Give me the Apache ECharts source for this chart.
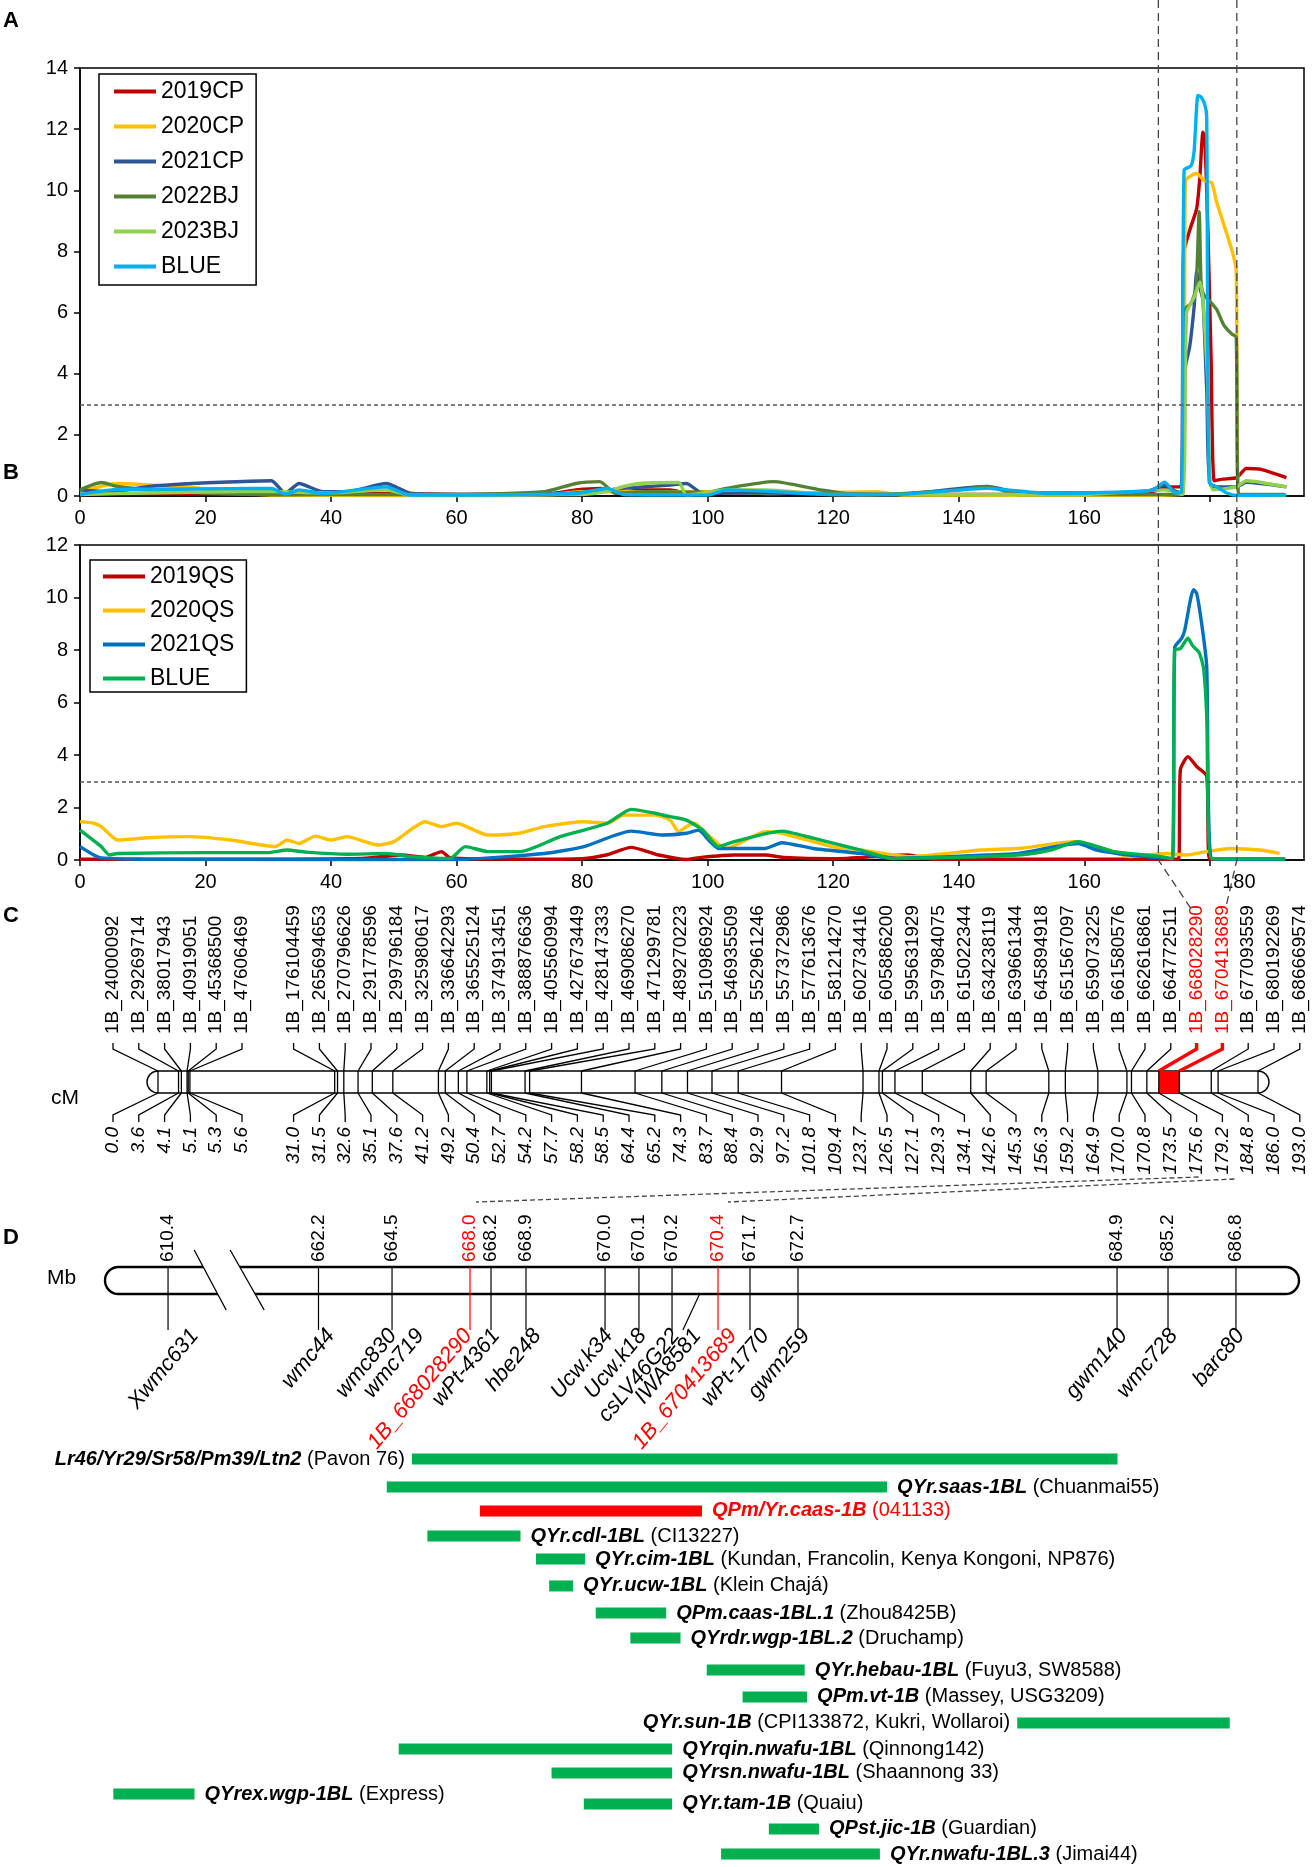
<!DOCTYPE html>
<html>
<head>
<meta charset="utf-8">
<script src="https://cdn.jsdelivr.net/npm/echarts@6.0.0/dist/echarts.min.js"></script>
<style>
html,body{margin:0;padding:0;background:#fff;}
#chart{width:1314px;height:1867px;}
</style>
</head>
<body>
<div id="chart"></div>
<script>
// ================= DATA =================
// Panel A: LOD profiles, [genetic position (cM), LOD]
const A_2019CP = [[0,0.05],[10,0.08],[30,0.05],[50,0.08],[60,0.05],[75,0.08],[79,0.2],[83,0.25],[86,0.1],[89,0.2],[94,0.2],[97,0.08],[110,0.12],[120,0.05],[140,0.05],[160,0.05],[170,0.1],[173.5,0.3],[175.4,0.3],[175.8,7.9],[176.8,8.7],[177.9,9.4],[178.4,10.4],[178.9,11.9],[179.2,11.7],[179.7,8.6],[180.2,4.5],[180.7,0.5],[182,0.55],[184.3,0.6],[185.8,0.9],[188,0.88],[192.2,0.6]];
const A_2020CP = [[0,0.14],[6,0.41],[11,0.36],[17,0.3],[23.6,0.14],[31,0.03],[60,0.01],[75,0.05],[80,0.14],[99,0.14],[110,0.08],[127,0.14],[131,0.03],[170,0.02],[175.7,0.05],[176.1,10.3],[176.8,10.45],[177.9,10.55],[179.2,10.3],[180.3,10.25],[181.1,9.6],[182.2,8.9],[183.5,8.05],[184.2,7.4],[184.6,0.05],[192,0.02]];
const A_2021CP = [[0,0.2],[4.7,0.14],[11,0.31],[17,0.4],[23.6,0.46],[30.5,0.5],[32.7,0.09],[34.9,0.41],[38.7,0.14],[42.5,0.14],[48.8,0.41],[52.6,0.09],[60,0.05],[74,0.05],[80,0.12],[86.6,0.25],[94.1,0.36],[96.6,0.41],[99.2,0.09],[110,0.1],[130,0.05],[144.5,0.31],[150,0.1],[160,0.1],[170,0.15],[172.8,0.36],[174.5,0.15],[175.6,0.1],[176.0,4.1],[176.8,4.9],[177.5,6.2],[177.9,7.35],[178.3,6.9],[178.9,6.4],[179.5,3.5],[180.3,0.3],[184.3,0.3],[185.8,0.45],[192.2,0.3]];
const A_2022BJ = [[0,0.2],[3.4,0.44],[6,0.31],[11,0.2],[20,0.1],[31,0.05],[60,0.05],[74,0.14],[79,0.41],[82.8,0.47],[85.3,0.09],[90,0.14],[100,0.12],[102.9,0.25],[110.5,0.47],[118,0.2],[124.3,0.03],[140,0.2],[144.5,0.31],[149.5,0.05],[172,0.05],[175.6,0.05],[176.0,6.1],[177.0,6.3],[177.8,6.8],[178.3,9.3],[178.6,7.0],[179.0,6.6],[180.3,6.3],[181.1,6.1],[182.2,5.6],[183.5,5.3],[184.2,5.2],[184.6,0.05],[192,0.05]];
const A_2023BJ = [[0,0.05],[11,0.1],[30,0.15],[40,0.1],[48.8,0.2],[52.6,0.03],[80,0.05],[84,0.15],[86.6,0.31],[89.1,0.41],[95.4,0.44],[96.6,0.03],[102.9,0.2],[109.2,0.2],[120,0.05],[160,0.05],[172.8,0.2],[175.6,0.05],[176.3,6.0],[177.5,6.5],[178.4,7.0],[178.9,6.4],[179.6,4.0],[180.5,0.2],[184.3,0.3],[185.8,0.5],[192.2,0.3]];
const A_BLUE = [[0,0.05],[5,0.2],[11,0.22],[23.6,0.24],[30.5,0.25],[32.7,0.06],[34.9,0.2],[38.7,0.08],[48.8,0.3],[52.6,0.03],[79,0.08],[84,0.25],[86.6,0.05],[100,0.03],[102.9,0.2],[110,0.15],[120,0.05],[130,0.05],[144.5,0.25],[154.6,0.08],[167.2,0.14],[171,0.2],[172.8,0.45],[174.5,0.1],[175.5,0.15],[175.9,10.66],[177.0,10.8],[177.5,11.3],[178.1,13.1],[178.6,13.05],[179.2,12.8],[179.5,12.4],[179.9,0.45],[181.1,0.3],[182.7,0.1],[184.3,0.02],[192.2,0.03]];

// Panel B
const B_2019QS = [[0,0.03],[20,0.03],[45,0.06],[51.3,0.19],[55,0.1],[57.6,0.32],[59,0.08],[70,0.03],[80,0.05],[84,0.2],[87.8,0.48],[92,0.2],[96.6,0.02],[99,0.1],[104.2,0.19],[109.2,0.19],[112,0.1],[120,0.05],[131.9,0.19],[136,0.03],[160,0.03],[175.0,0.03],[175.3,3.43],[176.5,3.94],[177.9,3.56],[179.5,3.2],[180.0,0.03],[192,0.03]];
const B_2020QS = [[0,1.46],[2.2,1.4],[3.4,1.27],[6,0.76],[11,0.85],[17.3,0.89],[24,0.76],[31.1,0.51],[33,0.76],[34.9,0.63],[37.5,0.91],[40,0.76],[42.5,0.89],[47.5,0.57],[50,0.7],[55,1.46],[57.6,1.27],[60,1.4],[65,0.95],[70,1.02],[74,1.27],[80.3,1.46],[84,1.4],[86.6,1.71],[91.6,1.71],[94,1.52],[95.4,1.08],[96.6,1.27],[97.9,1.4],[99.2,1.14],[103,0.44],[109.2,1.08],[111.8,1.02],[120,0.5],[124.4,0.38],[128,0.25],[132,0.13],[143.6,0.38],[150,0.45],[158.4,0.7],[162,0.51],[167.2,0.13],[170.5,0.2],[173.1,0.25],[176.3,0.19],[179,0.3],[183.2,0.44],[188,0.38],[191.1,0.25]];
const B_2021QS = [[0,0.51],[2.2,0.19],[3.4,0.08],[10,0.03],[60,0.02],[74,0.25],[80.3,0.51],[87.8,1.1],[92.9,0.95],[96.6,1.02],[98.5,1.14],[100.4,0.7],[101.7,0.44],[109.2,0.44],[111.8,0.66],[116.8,0.44],[124.4,0.25],[129.4,0.06],[144.5,0.19],[149.5,0.25],[159,0.63],[162,0.38],[167.2,0.19],[172.2,0.08],[174.0,0.05],[174.4,8.1],[175.5,8.44],[176.0,8.76],[177.4,10.3],[177.9,10.16],[178.7,9.0],[179.5,7.37],[180.3,0.05],[186,0.02],[192,0.02]];
const B_BLUE = [[0,1.14],[3.4,0.51],[4.7,0.19],[6,0.25],[20,0.28],[29.9,0.28],[33,0.38],[36,0.3],[42.5,0.22],[48.8,0.25],[52.6,0.13],[58.9,0.06],[61.4,0.51],[65,0.32],[70.2,0.32],[76.5,0.89],[84,1.4],[87.8,1.93],[91.6,1.78],[94,1.65],[96.6,1.52],[99.2,1.14],[101.7,0.51],[104.2,0.7],[111.8,1.1],[116.8,0.83],[124.4,0.38],[129.4,0.06],[140,0.1],[150,0.2],[154.6,0.38],[159,0.7],[164.7,0.32],[172.2,0.13],[174.0,0.05],[174.4,8.0],[175.3,8.05],[176.5,8.45],[177.3,8.15],[178.3,7.9],[179.0,7.3],[179.5,5.5],[180.3,0.05],[186,0.05],[192,0.05]];

const namesA = ['2019CP','2020CP','2021CP','2022BJ','2023BJ','BLUE'];
const namesB = ['2019QS','2020QS','2021QS','BLUE'];
const xTicksCM = [0,20,40,60,80,100,120,140,160,180];
const lodThreshold = 3;
const intervalCM = [171.8, 184.3];

// Panel C: linkage map markers
const markerNames = ['1B_24000092','1B_29269714','1B_38017943','1B_40919051','1B_45368500','1B_47606469','1B_176104459','1B_265694653','1B_270796626','1B_291778596','1B_299796184','1B_325980617','1B_336642293','1B_365525124','1B_374913451','1B_388876636','1B_405560994','1B_427673449','1B_428147333','1B_469086270','1B_471299781','1B_489270223','1B_510986924','1B_546935509','1B_552961246','1B_557372986','1B_577613676','1B_581214270','1B_602734416','1B_605886200','1B_595631929','1B_597984075','1B_615022344','1B_634238119','1B_639661344','1B_645894918','1B_651567097','1B_659073225','1B_661580576','1B_662616861','1B_664772511','1B_668028290','1B_670413689','1B_677093559','1B_680192269','1B_686669574'];
const markerCM = [0.0,3.6,4.1,5.1,5.3,5.6,31.0,31.5,32.6,35.1,37.6,41.2,49.2,50.4,52.7,54.2,57.7,58.2,58.5,64.4,65.2,74.3,83.7,88.4,92.9,97.2,101.8,109.4,123.7,126.5,127.1,129.3,134.1,142.6,145.3,156.3,159.2,164.9,170.0,170.8,173.5,175.6,179.2,184.8,186.0,193.0];
const redMarkers = ['1B_668028290','1B_670413689'];
const chromLengthCM = 193.0;

// Panel D: physical map (schematic position along the drawn bar, 0-100)
const physMb = ['610.4','662.2','664.5','668.0','668.2','668.9','670.0','670.1','670.2','670.4','671.7','672.7','684.9','685.2','686.8'];
const physPos = [5.28,17.88,24.04,30.57,32.33,35.26,41.88,44.72,47.49,51.34,54.02,58.04,84.76,89.03,94.72];
const physRedMb = ['668.0','670.4'];
const mapLabels = ['Xwmc631','wmc44','wmc830','wmc719','1B_668028290','wPt-4361','hbe248','Ucw.k34','Ucw.k18','csLV46G22','IWA8581','1B_670413689','wPt-1770','gwm259','gwm140','wmc728','barc80'];
const mapLabelPos = [7.5,18.9,24.1,26.4,30.4,32.75,36.2,42.2,45.0,47.8,49.6,52.6,55.3,58.7,85.3,89.5,95.1];
const iwaLink = [49.8, 48.4];
const breakPos = 10.4;

// QTL / gene intervals on the schematic physical map
const qtlNames = ['Lr46/Yr29/Sr58/Pm39/Ltn2','QYr.saas-1BL','QPm/Yr.caas-1B','QYr.cdl-1BL','QYr.cim-1BL','QYr.ucw-1BL','QPm.caas-1BL.1','QYrdr.wgp-1BL.2','QYr.hebau-1BL','QPm.vt-1B','QYr.sun-1B','QYrqin.nwafu-1BL','QYrsn.nwafu-1BL','QYrex.wgp-1BL','QYr.tam-1B','QPst.jic-1B','QYr.nwafu-1BL.3'];
const qtlSources = ['(Pavon 76)','(Chuanmai55)','(041133)','(CI13227)','(Kundan, Francolin, Kenya Kongoni, NP876)','(Klein Chajá)','(Zhou8425B)','(Druchamp)','(Fuyu3, SW8588)','(Massey, USG3209)','(CPI133872, Kukri, Wollaroi)','(Qinnong142)','(Shaannong 33)','(Express)','(Quaiu)','(Guardian)','(Jimai44)'];
const qtlStart = [25.7,23.6,31.4,27.0,36.1,37.2,41.1,44.0,50.4,53.4,76.4,24.6,37.4,0.7,40.1,55.6,51.6];
const qtlEnd   = [84.8,65.5,50.0,34.8,40.2,39.2,47.0,48.2,58.6,58.8,94.2,47.5,47.5,7.5,47.5,59.8,64.9];
const qtlRow   = [0,1.14,2.11,3.13,4.07,5.16,6.26,7.28,8.58,9.67,10.73,11.79,12.76,13.62,14.02,15.04,16.06];
const qtlRed = ['QPm/Yr.caas-1B'];
const qtlLeftLabel = ['Lr46/Yr29/Sr58/Pm39/Ltn2','QYr.sun-1B'];

// ================= STYLE =================
const FONT = '"Liberation Sans", Arial, Helvetica, sans-serif';
const RED = '#FF0000';
const colorsA = ['#C00000','#FFC000','#2F5597','#548235','#92D050','#00B0F0'];
const colorsB = ['#C00000','#FFC000','#0070C0','#00B050'];
const dataA = [A_2019CP, A_2020CP, A_2021CP, A_2022BJ, A_2023BJ, A_BLUE];
const dataB = [B_2019QS, B_2020QS, B_2021QS, B_BLUE];

const chart = echarts.init(document.getElementById('chart'), null, {renderer: 'canvas'});

function valueXAxis(gridIndex) {
  return {
    type: 'value', gridIndex, min: 0, max: 195,
    axisLine: {show: true, lineStyle: {color: '#000', width: 1.5}},
    axisTick: {show: true, inside: false, length: 6, lineStyle: {color: '#000', width: 1.5}, customValues: xTicksCM},
    axisLabel: {
      show: true, color: '#000', fontSize: 20, fontFamily: FONT, margin: 12, customValues: xTicksCM,
      formatter: v => (v === 180 ? '{r|180}' : String(v)),
      rich: {r: {fontSize: 20, fontFamily: FONT, color: '#000', padding: [0, 0, 0, 58]}}
    },
    splitLine: {show: false}
  };
}
function valueYAxis(gridIndex, max) {
  return {
    type: 'value', gridIndex, min: 0, max, interval: 2,
    axisLine: {show: true, lineStyle: {color: '#000', width: 1.5}},
    axisTick: {show: true, inside: false, length: 6, lineStyle: {color: '#000', width: 1.5}},
    axisLabel: {show: true, color: '#000', fontSize: 20, fontFamily: FONT, margin: 12},
    splitLine: {show: false}
  };
}
function hiddenAxis(gridIndex, min, max, inverse) {
  return {type: 'value', gridIndex, min, max, inverse: !!inverse, show: false, splitLine: {show: false}};
}

function lineSeries(name, data, color, xi, withThreshold) {
  const s = {
    type: 'line', name, data, xAxisIndex: xi, yAxisIndex: xi,
    showSymbol: false, symbol: 'none', smooth: 0.2, clip: true,
    lineStyle: {color, width: 3.4}, itemStyle: {color},
    emphasis: {disabled: true}, silent: true, z: 3
  };
  if (withThreshold) {
    s.markLine = {
      silent: true, symbol: 'none', animation: false,
      label: {show: false},
      lineStyle: {color: '#555', type: [4, 3], width: 1.5},
      data: [{yAxis: lodThreshold}]
    };
  }
  return s;
}

const legendCommon = {
  orient: 'vertical', icon: 'rect', itemWidth: 42, itemHeight: 4,
  borderColor: '#000', borderWidth: 1.5, backgroundColor: '#fff',
  selectedMode: false,
  formatter: n => n.replace(/_[AB]$/, ''),
  textStyle: {fontSize: 23, color: '#000', fontFamily: FONT}
};

const baseSeries = [];
namesA.forEach((n, i) => baseSeries.push(lineSeries(n === 'BLUE' ? 'BLUE_A' : n, dataA[i], colorsA[i], 0, i === 0)));
namesB.forEach((n, i) => baseSeries.push(lineSeries(n === 'BLUE' ? 'BLUE_B' : n, dataB[i], colorsB[i], 1, i === 0)));

const gridCommon = {containLabel: false, outerBoundsMode: 'none'};
const option = {
  animation: false,
  backgroundColor: '#fff',
  textStyle: {fontFamily: FONT},
  grid: [
    Object.assign({left: 80, top: 68, width: 1224, height: 428, show: true, borderColor: '#000', borderWidth: 1.5, backgroundColor: 'transparent'}, gridCommon),
    Object.assign({left: 80, top: 545, width: 1224, height: 315, show: true, borderColor: '#000', borderWidth: 1.5, backgroundColor: 'transparent'}, gridCommon),
    Object.assign({left: 158, top: 1071, width: 1100, height: 22}, gridCommon),
    Object.assign({left: 113, top: 1071, width: 1186.8, height: 22}, gridCommon),
    Object.assign({left: 105, top: 1267, width: 1194, height: 27}, gridCommon),
    Object.assign({left: 105, top: 1459, width: 1194, height: 393.6}, gridCommon)
  ],
  xAxis: [
    valueXAxis(0), valueXAxis(1),
    hiddenAxis(2, 0, chromLengthCM), hiddenAxis(3, 0, 46),
    hiddenAxis(4, 0, 100), hiddenAxis(5, 0, 100)
  ],
  yAxis: [
    valueYAxis(0, 14), valueYAxis(1, 12),
    hiddenAxis(2, 0, 1), hiddenAxis(3, 0, 1), hiddenAxis(4, 0, 1), hiddenAxis(5, 0, 16, true)
  ],
  legend: [
    Object.assign({}, legendCommon, {data: namesA.map(n => n === 'BLUE' ? 'BLUE_A' : n), left: 99, top: 74, padding: [6, 12, 7, 15], itemGap: 12}),
    Object.assign({}, legendCommon, {data: namesB.map(n => n === 'BLUE' ? 'BLUE_B' : n), left: 90, top: 560, padding: [5, 12, 2, 13], itemGap: 11})
  ],
  series: baseSeries
};
chart.setOption(option);

// ---------- second pass: positions from the library's axes ----------
const slotOf = i => (i < 6 ? i : i + 1);
const slotPx = markerNames.map((n, i) => chart.convertToPixel({xAxisIndex: 3}, slotOf(i)));
const mapPx = u => chart.convertToPixel({xAxisIndex: 4}, u);
const cmA = v => chart.convertToPixel({xAxisIndex: 0}, v);
const bBottom = chart.convertToPixel({yAxisIndex: 1}, 0);

const customSeries = [];
// Chromosome body + red interval (panel C)
customSeries.push({
  type: 'custom', xAxisIndex: 2, yAxisIndex: 2, silent: true, z: 2,
  data: [[0, chromLengthCM]],
  renderItem: (params, api) => {
    const cs = params.coordSys;
    const x0 = api.coord([api.value(0), 0])[0];
    const x1 = api.coord([api.value(1), 0])[0];
    const r0 = api.coord([markerCM[markerNames.indexOf(redMarkers[0])], 0])[0];
    const r1 = api.coord([markerCM[markerNames.indexOf(redMarkers[1])], 0])[0];
    const h = cs.height;
    return {type: 'group', children: [
      {type: 'rect', shape: {x: x0 - h / 2, y: cs.y, width: x1 - x0 + h, height: h, r: h / 2}, style: {fill: '#fff', stroke: '#000', lineWidth: 1.4}},
      {type: 'rect', shape: {x: r0, y: cs.y, width: r1 - r0, height: h}, style: {fill: RED}}
    ]};
  }
});
// Markers (panel C)
customSeries.push({
  type: 'custom', xAxisIndex: 2, yAxisIndex: 2, silent: true, z: 3,
  encode: {x: 0, y: 1},
  data: markerCM.map((c, i) => [c, 0, i]),
  renderItem: (params, api) => {
    const i = api.value(2);
    const cm = api.value(0);
    const cs = params.coordSys;
    const cx = api.coord([cm, 0])[0];
    const top = cs.y, bot = cs.y + cs.height;
    const sx = slotPx[i];
    const isRed = redMarkers.includes(markerNames[i]);
    const col = isRed ? RED : '#000';
    return {type: 'group', children: [
      {type: 'polyline', shape: {points: [[sx, top - 28], [sx, top - 22], [cx, top]]}, style: {stroke: col, lineWidth: isRed ? 3.5 : 1.3, fill: 'none'}},
      {type: 'line', shape: {x1: cx, y1: top, x2: cx, y2: bot}, style: {stroke: '#000', lineWidth: 1.3}},
      {type: 'polyline', shape: {points: [[cx, bot], [sx, bot + 22], [sx, bot + 29]]}, style: {stroke: '#000', lineWidth: 1.3, fill: 'none'}},
      {type: 'text', x: sx, y: top - 37, rotation: Math.PI / 2, style: {text: markerNames[i], fill: col, fontSize: 19, fontFamily: FONT, align: 'left', verticalAlign: 'middle'}},
      {type: 'text', x: sx, y: bot + 34, rotation: Math.PI / 2, style: {text: cm.toFixed(1), fill: '#000', fontSize: 19, fontStyle: 'italic', fontFamily: FONT, align: 'right', verticalAlign: 'middle'}}
    ]};
  }
});
// Physical map bar (panel D)
customSeries.push({
  type: 'custom', xAxisIndex: 4, yAxisIndex: 4, silent: true, z: 2,
  data: [[0, 0]],
  renderItem: (params, api) => {
    const cs = params.coordSys;
    return {type: 'rect', shape: {x: cs.x, y: cs.y, width: cs.width, height: cs.height, r: cs.height / 2}, style: {fill: '#fff', stroke: '#000', lineWidth: 2.4}};
  }
});
// Physical ticks + Mb labels
customSeries.push({
  type: 'custom', xAxisIndex: 4, yAxisIndex: 4, silent: true, z: 3,
  encode: {x: 0, y: 1},
  data: physPos.map((p, i) => [p, 0, i]),
  renderItem: (params, api) => {
    const i = api.value(2);
    const cs = params.coordSys;
    const x = api.coord([api.value(0), 0])[0];
    const top = cs.y, bot = cs.y + cs.height;
    const isRed = physRedMb.includes(physMb[i]);
    const col = isRed ? RED : '#000';
    return {type: 'group', children: [
      {type: 'line', shape: {x1: x, y1: top, x2: x, y2: bot + 36}, style: {stroke: col, lineWidth: 1.2}},
      {type: 'text', x: x, y: top - 5, rotation: Math.PI / 2, style: {text: physMb[i], fill: col, fontSize: 19, fontFamily: FONT, align: 'left', verticalAlign: 'middle'}}
    ]};
  }
});
// IWA8581 link line
customSeries.push({
  type: 'custom', xAxisIndex: 4, yAxisIndex: 4, silent: true, z: 3,
  data: [[iwaLink[0], 0, iwaLink[1]]],
  renderItem: (params, api) => {
    const cs = params.coordSys;
    const bot = cs.y + cs.height;
    const a = api.coord([api.value(0), 0])[0];
    const b = api.coord([api.value(2), 0])[0];
    return {type: 'line', shape: {x1: a, y1: bot, x2: b, y2: bot + 36}, style: {stroke: '#000', lineWidth: 1.2}};
  }
});
// Break symbol
customSeries.push({
  type: 'custom', xAxisIndex: 4, yAxisIndex: 4, silent: true, z: 4,
  data: [[breakPos, 0]],
  renderItem: (params, api) => {
    const cs = params.coordSys;
    const c = api.coord([api.value(0), 0])[0];
    const t = cs.y - 17, b = cs.y + cs.height + 16;
    return {type: 'group', children: [
      {type: 'polygon', shape: {points: [[c - 35, t], [c + 1, t], [c + 35, b], [c - 3, b]]}, style: {fill: '#fff'}},
      {type: 'line', shape: {x1: c - 35, y1: t, x2: c - 3, y2: b}, style: {stroke: '#000', lineWidth: 1.3}},
      {type: 'line', shape: {x1: c + 1, y1: t, x2: c + 35, y2: b}, style: {stroke: '#000', lineWidth: 1.3}}
    ]};
  }
});
// Marker names below the physical map
customSeries.push({
  type: 'custom', xAxisIndex: 4, yAxisIndex: 4, silent: true, z: 3,
  encode: {x: 0, y: 1},
  data: mapLabelPos.map((p, i) => [p, 0, i]),
  renderItem: (params, api) => {
    const i = api.value(2);
    const cs = params.coordSys;
    const x = api.coord([api.value(0), 0])[0];
    const bot = cs.y + cs.height;
    const isRed = redMarkers.includes(mapLabels[i]);
    return {type: 'text', x: x, y: bot + 38, rotation: 50 * Math.PI / 180,
      style: {text: mapLabels[i], fill: isRed ? RED : '#000', fontSize: 22, fontStyle: 'italic', fontFamily: FONT, align: 'right', verticalAlign: 'middle'}};
  }
});
// QTL intervals
customSeries.push({
  type: 'custom', xAxisIndex: 5, yAxisIndex: 5, silent: true, z: 3,
  encode: {x: [0, 1], y: 2},
  data: qtlStart.map((s, i) => [s, qtlEnd[i], qtlRow[i], i]),
  renderItem: (params, api) => {
    const i = api.value(3);
    const s = api.coord([api.value(0), api.value(2)]);
    const e = api.coord([api.value(1), api.value(2)]);
    const h = 11;
    const isRed = qtlRed.includes(qtlNames[i]);
    const col = isRed ? RED : '#00B050';
    const txtCol = isRed ? RED : '#000';
    const left = qtlLeftLabel.includes(qtlNames[i]);
    return {type: 'group', children: [
      {type: 'rect', shape: {x: s[0], y: s[1] - h / 2, width: e[0] - s[0], height: h}, style: {fill: col}},
      {type: 'text', x: left ? s[0] - 7 : e[0] + 10, y: s[1],
        style: {
          text: '{n|' + qtlNames[i] + '} {c|' + qtlSources[i] + '}',
          fill: txtCol, fontSize: 20, fontFamily: FONT,
          align: left ? 'right' : 'left', verticalAlign: 'middle',
          rich: {
            n: {fill: txtCol, fontSize: 20, fontFamily: FONT, fontStyle: 'italic', fontWeight: 'bold'},
            c: {fill: txtCol, fontSize: 20, fontFamily: FONT}
          }
        }}
    ]};
  }
});

// Annotation connectors and labels
const cTop = 1071, cBot = 1093, dTop = 1267;
const iR0 = markerNames.indexOf(redMarkers[0]);
const iR1 = markerNames.indexOf(redMarkers[1]);
const dashStyle = {stroke: '#444', lineWidth: 1.3, lineDash: [8, 5], fill: 'none'};
const dash2 = {stroke: '#444', lineWidth: 1.3, lineDash: [5, 3], fill: 'none'};
const xL = cmA(intervalCM[0]), xR = cmA(intervalCM[1]);
const graphics = [
  {type: 'polyline', silent: true, z: 10, shape: {points: [[xL, 0], [xL, bBottom], [slotPx[iR0] - 4, cTop - 160]]}, style: dashStyle},
  {type: 'polyline', silent: true, z: 10, shape: {points: [[xR, 0], [xR, bBottom], [slotPx[iR1] + 4, cTop - 166]]}, style: dashStyle},
  {type: 'polyline', silent: true, z: 10, shape: {points: [[slotPx[iR0] + 2, cBot + 84], [mapPx(physPos[physMb.indexOf('668.0')]) + 6, dTop - 65]]}, style: dash2},
  {type: 'polyline', silent: true, z: 10, shape: {points: [[slotPx[iR1] + 12, cBot + 86], [mapPx(physPos[physMb.indexOf('670.4')]) + 10, dTop - 65]]}, style: dash2},
  {type: 'text', left: 3, top: 10, silent: true, style: {text: 'A', fill: '#000', font: 'bold 22px ' + FONT}},
  {type: 'text', left: 3, top: 462, silent: true, style: {text: 'B', fill: '#000', font: 'bold 22px ' + FONT}},
  {type: 'text', left: 3, top: 905, silent: true, style: {text: 'C', fill: '#000', font: 'bold 22px ' + FONT}},
  {type: 'text', left: 3, top: 1227, silent: true, style: {text: 'D', fill: '#000', font: 'bold 22px ' + FONT}},
  {type: 'text', left: 51, top: 1088, silent: true, style: {text: 'cM', fill: '#000', font: '21px ' + FONT}},
  {type: 'text', left: 47, top: 1268, silent: true, style: {text: 'Mb', fill: '#000', font: '21px ' + FONT}}
];

chart.setOption({series: baseSeries.concat(customSeries), graphic: graphics});
</script>
</body>
</html>
